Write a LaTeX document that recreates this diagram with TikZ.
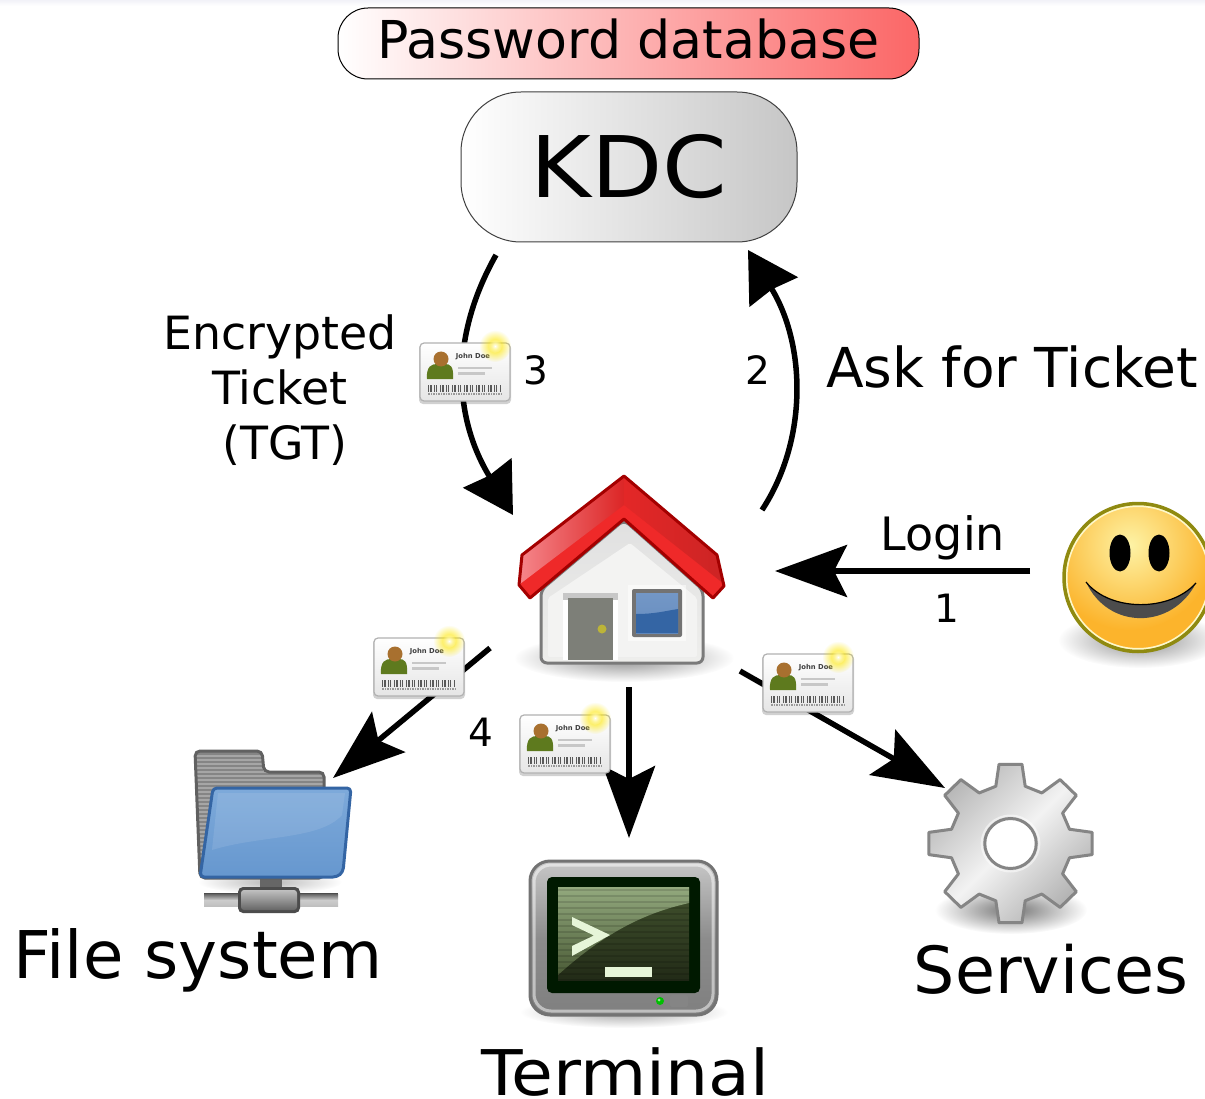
\documentclass[tikz,border=0pt]{standalone}
\usepackage{fontspec}
\usepackage{graphicx}
\setmainfont{DejaVu Sans}
\usetikzlibrary{arrows.meta,fadings,shapes.geometric}
\newcommand{\pxfont}[1]{\fontsize{#1}{#1}\selectfont}
\definecolor{dbred}{HTML}{FB6666}
\definecolor{kdcgray}{HTML}{C6C6C6}
\definecolor{topband}{HTML}{F2F2F8}
\definecolor{roofdark}{HTML}{A40000}
\definecolor{roofred}{HTML}{EF2929}
\definecolor{roofmid}{HTML}{CC2424}
\definecolor{rooflight}{HTML}{F5858A}
\definecolor{wallgray}{HTML}{EEEEEC}
\definecolor{doorgray}{HTML}{7D7F78}
\definecolor{winblue}{HTML}{3465A4}
\definecolor{winlight}{HTML}{7397C6}
\definecolor{foldblue}{HTML}{6FA0D6}
\definecolor{foldedge}{HTML}{3465A4}
\definecolor{termgreen}{HTML}{3E4E2A}
\definecolor{termlight}{HTML}{93A97E}
\definecolor{promptc}{HTML}{E6F5D8}
\definecolor{faceyellow}{HTML}{FDF3A6}
\definecolor{faceorange}{HTML}{FCB42C}
\definecolor{faceedge}{HTML}{8F8A10}
\definecolor{personhead}{HTML}{A8702F}
\definecolor{personbody}{HTML}{5E7A1E}
\tikzfading[name=softspot, inner color=transparent!0, outer color=transparent!100]
\tikzset{
  x=1pt, y=-1pt,
  conn/.style={line width=5.5pt, -{Stealth[length=72pt,width=52pt,inset=13pt]}},
  curveconn/.style={line width=5.5pt, -{Stealth[length=49pt,width=56pt,inset=3pt]}},
  lbl/.style={anchor=base, inner sep=0pt, text=black},
  softshadow/.style={fill=black, path fading=softspot},
  card/.pic={
    \fill[black, opacity=.18, rounded corners=4pt] (-46,-28) rectangle (46,32);
    \shade[rounded corners=4pt, draw=black!30, line width=1.2pt, top color=white, bottom color=black!10]
      (-45,-29) rectangle (45,29);
    \fill[personbody] (-38,7) .. controls (-39,-6) and (-33,-8) .. (-28,-8)
      -- (-20,-8) .. controls (-15,-8) and (-11,-6) .. (-12,7) -- cycle;
    \fill[personhead] (-24,-13) circle (7.5);
    \node[inner sep=0pt, text=black!75] (name) at (8,-15.5) {\pxfont{6.8}\bfseries John Doe};
    \draw[black!22, line width=2.4pt] (-7,-4) -- (27,-4) (-7,1.5) -- (20,1.5);
    \draw[black!65, line width=7pt, dash pattern=on 1pt off 1.4pt on 2pt off 1.2pt on 1pt off 1.2pt on 1pt off 3.2pt]
      (-37,16) -- (37,16);
    \draw[black!40, line width=1.6pt, dash pattern=on 2pt off 1pt on 1pt off 1pt] (-37,22) -- (37,22);
    \fill[yellow!90!orange, path fading=softspot] (30,-26) circle (16);
    \fill[white, path fading=softspot] (30,-26) circle (7);
  }
}
\begin{document}
\begin{tikzpicture}
\clip (0,0) rectangle (1205,1099);
\fill[white] (0,0) rectangle (1205,1099);
\shade[top color=topband, bottom color=white] (0,0) rectangle (1205,6);

% --- boxes
\node[draw=black, line width=1pt, rounded corners=30pt, minimum width=581pt, minimum height=71pt,
      inner sep=0pt, left color=white, right color=dbred, text=black,
      text height=37pt, text depth=6pt] (db) at (628.5,43.5) {\pxfont{52.2}Password database};
\node[draw=black!75, line width=1pt, rounded corners=60pt, minimum width=336pt, minimum height=150pt,
      inner sep=0pt, left color=white, right color=kdcgray, text=black,
      text height=62pt, text depth=0pt] (kdc) at (629,167) {\scalebox{1.09}[1]{\pxfont{85}KDC}};

% --- connector ends
\coordinate (kdcOut) at (496,255);
\coordinate (kdcIn) at (748,250);
\coordinate (houseUp) at (762,510);
\coordinate (houseIn) at (513,515);
\coordinate (houseRight) at (775,571);
\coordinate (userOut) at (1030,571);
\coordinate (houseFile) at (490,648);
\coordinate (fileIn) at (333,778);
\coordinate (houseTerm) at (629,687);
\coordinate (termIn) at (629,838);
\coordinate (houseServ) at (740,671);
\coordinate (servIn) at (945,788);

% --- connectors
\draw[conn] (userOut) -- (houseRight);
\draw[curveconn] (houseUp) .. controls (808,440) and (806,345) .. (kdcIn);
\draw[curveconn] (kdcOut) .. controls (448,340) and (455,420) .. (houseIn);
\draw[conn] (houseFile) -- (fileIn);
\draw[conn] (houseTerm) -- (termIn);
\draw[conn] (houseServ) -- (servIn);

% --- cards
\pic (c3) at (465,372) {card};
\pic (c4a) at (419,667) {card};
\pic (c4b) at (565,744) {card};
\pic (c4c) at (808,683) {card};

% --- labels
\node[inner sep=0pt, align=center, text=black, font=\fontsize{45.8}{55}\selectfont, text width=300pt] (enc) at (280,390)
  {Encrypted\\ Ticket\hspace*{8pt}\\ \hspace*{10pt}(TGT)};
\node[lbl, font=\pxfont{55}] (ask) at (1012,387) {Ask for Ticket};
\node[lbl, font=\pxfont{46}] (login) at (943,550) {Login};
\node[lbl, font=\pxfont{39}] (n1) at (947,622) {1};
\node[lbl, font=\pxfont{39}] (n2) at (758,384) {2};
\node[lbl, font=\pxfont{39}] (n3) at (536,384) {3};
\node[lbl, font=\pxfont{39}] (n4) at (481,746) {4};
\node[lbl, font=\pxfont{65.8}] (fs) at (198,978) {File system};
\node[lbl] (term) at (625.5,1095) {\scalebox{1.08}[1]{\pxfont{63}Terminal}};
\node[lbl, font=\pxfont{65}] (serv) at (1051,993) {Services};

% --- house
\fill[softshadow, opacity=.45] (624,658) ellipse (110 and 24);
\shade[draw=black!52, line width=3pt, rounded corners=6pt, top color=black!12, bottom color=wallgray]
  (541,590) -- (624,520) -- (703,590) -- (703,663) -- (541,663) -- cycle;
\fill[wallgray!70!white, rounded corners=2pt] (548,598) -- (630,543) -- (697,598) -- (697,657) -- (548,657) -- cycle;
\fill[black!22] (563,593) rectangle (618,600);
\fill[white] (563,600) rectangle (618,660);
\fill[doorgray] (568,598) rectangle (613,660);
\fill[yellow!70!black] (602,629) circle (4.5);
\fill[white, opacity=.5] (628,585) rectangle (686,641);
\fill[black!55, rounded corners=2pt] (632,589) rectangle (682,637);
\shade[top color=winlight, bottom color=winlight!80!winblue] (636,593) rectangle (678,633);
\fill[winblue] (636,614) .. controls (655,614) and (665,611) .. (678,609) -- (678,633) -- (636,633) -- cycle;
\fill[roofred] (624,476) -- (522,555) -- (519,585) -- (530,598) -- (624,519) -- (713,598) -- (724,586) -- (717,555) -- cycle;
\shade[left color=rooflight, right color=roofred!92!black] (624,476) -- (522,555) -- (520,584) -- (624,505) -- cycle;
\shade[left color=roofred!95!black, right color=roofmid] (624,476) -- (717,555) -- (724,584) -- (624,505) -- cycle;
\draw[roofdark, line width=3pt, line join=round]
  (624,476) -- (522,555) -- (519,585) -- (530,598) -- (624,519) -- (713,598) -- (724,586) -- (717,555) -- cycle;

% --- folder
\fill[softshadow, opacity=.28] (270,882) ellipse (72 and 12);
\fill[black!70] (204,893) rectangle (338,907);
\shade[top color=black!60, bottom color=black!25, middle color=black!20] (204,894) rectangle (338,906);
\fill[black!60] (260,875) rectangle (282,892);
\fill[black!70, rounded corners=5pt] (238,887) rectangle (300,913);
\shade[top color=black!25, bottom color=black!60, rounded corners=3pt] (241,890) rectangle (297,910);
\begin{scope}
  \clip[rounded corners=5pt] (195,751) -- (262,751) -- (262,772) -- (324,772) -- (324,878) -- (200,878) -- cycle;
  \fill[black!48] (190,745) rectangle (330,880);
  \foreach \k in {0,...,33} \draw[black!35, line width=1.5pt] (190,{756+4*\k}) -- (330,{756+4*\k});
\end{scope}
\draw[black!62, line width=3pt, rounded corners=5pt] (195,751) -- (262,751) -- (264,772) -- (324,772) -- (324,878) -- (200,878) -- cycle;
\shade[draw=foldedge, line width=3pt, line join=round, rounded corners=4pt, top color=foldblue!90!white, bottom color=foldblue!85!foldedge]
  (213,788) -- (351,788) -- (343,872) -- (337,877) -- (200,877) -- cycle;
\fill[white, opacity=.1] (218,793) -- (345,793) -- (342,815) .. controls (320,840) and (260,835) .. (212,850) -- cycle;

% --- terminal
\fill[softshadow, opacity=.35] (624,1012) ellipse (104 and 16);
\shade[draw=black!55, line width=3pt, rounded corners=20pt, top color=black!22, bottom color=black!50, middle color=black!45]
  (530,861) rectangle (717,1015);
\draw[white, opacity=.5, line width=3pt, rounded corners=17pt] (534,865) rectangle (713,1011);
\fill[black!90!green, rounded corners=5pt] (547,877) rectangle (700,993);
\begin{scope}
  \clip (558,887) rectangle (689,980);
  \shade[top color=termgreen!95!termlight, bottom color=termgreen!55!black] (558,887) rectangle (689,980);
  \shade[top color=termlight, bottom color=termlight!15!termgreen]
    (558,887) -- (689,887) -- (689,903) .. controls (650,912) and (610,928) .. (558,975) -- cycle;
  \foreach \k in {0,...,15} \draw[black, opacity=.13, line width=2.5pt] (558,{890+6*\k}) -- (689,{890+6*\k});
\end{scope}
\fill[promptc] (572,917) -- (610,935) -- (572,956) -- (572,946) -- (594,935.5) -- (572,925) -- cycle;
\fill[promptc] (605,967) rectangle (652,977);
\fill[black!48, rounded corners=2pt] (670,995) rectangle (688,1007);
\fill[green!75!black] (660,1001) circle (4);
\fill[white, opacity=.6] (659,1000) circle (1.5);

% --- gear
\fill[softshadow, opacity=.55] (1011,910) ellipse (76 and 24);
\begin{scope}[shift={(1010.5,843.5)}, xscale=1.03]
  \shade[draw=black!48, line width=3pt, line join=round, left color=black!28, right color=black!30, middle color=black!5, shading angle=45]
    (-8:80) \foreach \a in {0,45,...,315}{
       -- ({\a+8}:80) -- ({\a+14}:59) -- ({\a+31}:59) -- ({\a+37}:80)
    } -- cycle;
  \fill[white] (0,0) circle (25);
  \draw[black!48, line width=3pt] (0,0) circle (25);
  \draw[white, opacity=.5, line width=2pt] (0,0) circle (28);
\end{scope}

% --- smiley
\fill[softshadow, opacity=.45] (1140,640) ellipse (82 and 28);
\begin{scope}
  \clip (1138,577.5) circle (75);
  \fill[faceorange] (1050,490) rectangle (1230,670);
  \shade[inner color=faceyellow, outer color=faceorange] (1130,545) circle (85);
\end{scope}
\draw[faceyellow!60!white, line width=2pt] (1138,577.5) circle (71.5);
\draw[faceedge, line width=3.5pt] (1138,577.5) circle (74);
\fill[black] (1120,553) ellipse (10.5 and 18.5);
\fill[black] (1159,553) ellipse (10.5 and 18.5);
\fill[black!70] (1086,582) .. controls (1110,612) and (1170,612) .. (1196,583)
  .. controls (1172,630) and (1108,630) .. cycle;
\draw[black, line width=1.2pt] (1086,582) .. controls (1110,612) and (1170,612) .. (1196,583);
\end{tikzpicture}
\end{document}
